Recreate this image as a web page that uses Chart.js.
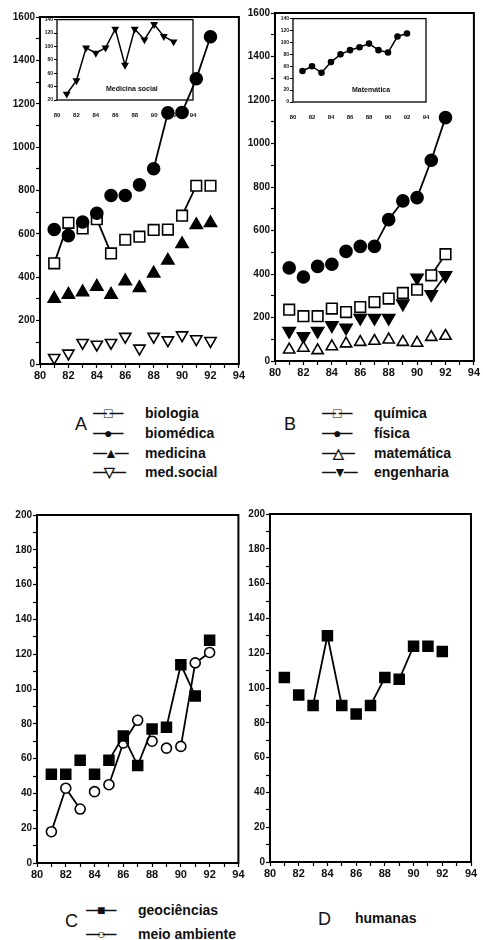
<!DOCTYPE html>
<html>
<head>
<meta charset="utf-8">
<script src="https://cdn.jsdelivr.net/npm/chart.js@4.4.1/dist/chart.umd.min.js"></script>
<style>
body{margin:0;background:#fff;width:483px;height:940px;position:relative;overflow:hidden;font-family:"Liberation Sans",Arial,sans-serif;color:#111;}
canvas{position:absolute;}
.t{position:absolute;white-space:nowrap;line-height:1;font-weight:bold;}
.leg{font-size:14px;}
.let{font-size:18px;font-weight:normal;}
.sym{display:inline-block;width:52px;letter-spacing:-3px;}
.mini{font-size:7px;}
</style>
</head>
<body>
<canvas id="cA" width="248" height="385" style="left:0;top:0"></canvas>
<canvas id="cB" width="238" height="385" style="left:245px;top:0"></canvas>
<canvas id="cC" width="247" height="385" style="left:0;top:500px"></canvas>
<canvas id="cD" width="238" height="385" style="left:245px;top:500px"></canvas>
<canvas id="iA" width="160" height="108" style="left:40px;top:14px"></canvas>
<canvas id="iB" width="160" height="110" style="left:276px;top:13px"></canvas>

<div class="t mini" style="left:106px;top:85px">Medicina social</div>
<div class="t mini" style="left:352px;top:86px">Matemática</div>

<div class="t let" style="left:75px;top:415px">A</div>
<div class="t leg" style="left:93px;top:406px"><span class="sym">—□—</span>biologia</div>
<div class="t leg" style="left:93px;top:426px"><span class="sym">—●—</span>biomédica</div>
<div class="t leg" style="left:93px;top:446px"><span class="sym">—▲—</span>medicina</div>
<div class="t leg" style="left:93px;top:465px"><span class="sym">—▽—</span>med.social</div>

<div class="t let" style="left:284px;top:415px">B</div>
<div class="t leg" style="left:322px;top:406px"><span class="sym">—□—</span>química</div>
<div class="t leg" style="left:322px;top:426px"><span class="sym">—●—</span>física</div>
<div class="t leg" style="left:322px;top:446px"><span class="sym">—△—</span>matemática</div>
<div class="t leg" style="left:322px;top:465px"><span class="sym">—▼—</span>engenharia</div>

<div class="t let" style="left:65px;top:912px">C</div>
<div class="t leg" style="left:86px;top:903px"><span class="sym">—■—</span>geociências</div>
<div class="t leg" style="left:86px;top:927px"><span class="sym">—○—</span>meio ambiente</div>

<div class="t let" style="left:318px;top:910px">D</div>
<div class="t leg" style="left:355px;top:911px">humanas</div>

<script>
// anos (eixo x) e valores
const anos = [81, 82, 83, 84, 85, 86, 87, 88, 89, 90, 91, 92];

// painel A
const biologia  = [464, 651, 625, 668, 510, 573, 587, 618, 620, 684, 822, 822];
const biomedica = [620, 592, 655, 695, 777, 777, 826, 900, 1158, 1160, 1315, 1509];
const medicina  = [301, 320, 331, 357, 320, 382, 351, 418, 477, 553, 641, 650];
const medSocial = [29, 49, 98, 90, 98, 126, 72, 126, 110, 133, 115, 107];

// painel B
const quimica    = [236, 206, 206, 241, 225, 248, 271, 287, 313, 328, 394, 491];
const fisica     = [428, 386, 435, 445, 504, 527, 527, 650, 736, 751, 923, 1119];
const matematica = [52, 60, 49, 67, 80, 87, 92, 98, 87, 83, 110, 115];
const engenharia = [138, 113, 138, 164, 153, 198, 198, 198, 264, 383, 307, 394];

// painel C e D
const geociencias  = [51, 51, 59, 51, 59, 73, 56, 77, 78, 114, 96, 128];
const meioAmbiente = [18, 43, 31, 41, 45, 69, 82, 70, 66, 67, 115, 121];
const humanas      = [106, 96, 90, 130, 90, 85, 90, 106, 105, 124, 124, 121];

// quais segmentos aparecem ligados na figura (indice do ponto inicial)
const ligaBiologia  = [0, 3, 9];
const ligaBiomedica = [7, 9, 10];
const ligaFisica    = [6, 7, 9, 10];
const ligaQuimica   = [10];
const ligaEngenh    = [10];
const ligaGeo       = [4, 5, 6, 8, 9];
const ligaMeio      = [0, 1, 4, 5, 9, 10];
const ligaHumanas   = [2, 3, 6, 8];
const todos = [0, 1, 2, 3, 4, 5, 6, 7, 8, 9, 10];

const fonte = '"Liberation Sans", Arial, sans-serif';

const moldura = { // desenha a caixa em volta da area do grafico
  id: 'moldura',
  afterDraw(c, args, o){
    const a = c.chartArea, ctx = c.ctx;
    ctx.save();
    ctx.strokeStyle = '#000';
    ctx.lineWidth = o.w || 2;
    ctx.strokeRect(a.left, a.top, a.right - a.left, a.bottom - a.top);
    ctx.restore();
  }
};

function serie(vals, liga, forma, r, cheio, rot, lw){
  return {
    data: vals.map((v, i) => ({ x: anos[i], y: v })),
    showLine: true,
    borderColor: '#000',
    borderWidth: lw || 1.8,
    pointStyle: forma,
    pointRotation: rot || 0,
    pointRadius: r,
    pointBackgroundColor: cheio ? '#000' : '#fff',
    pointBorderColor: '#000',
    pointBorderWidth: 1.6,
    segment: { borderColor: s => liga.includes(s.p0DataIndex) ? '#000' : 'rgba(0,0,0,0)' },
    clip: false
  };
}

// tira o espaco extra que o chart.js deixa para as etiquetas nas pontas
function semPadX(s, h){ s.height = h; s.paddingLeft = 0; s.paddingRight = 0; }

function painel(id, datasets, yMax, yStep, pad, yW, xH){
  return new Chart(document.getElementById(id), {
    type: 'scatter',
    data: { datasets },
    options: {
      responsive: false, animation: false,
      layout: { padding: { top: pad.top, right: pad.right, left: 0, bottom: 0 } },
      plugins: { legend: { display: false }, tooltip: { enabled: false }, moldura: { w: 2 } },
      scales: {
        x: {
          type: 'linear', min: 80, max: 94,
          grid: { drawOnChartArea: false, tickLength: 4, color: '#000', tickWidth: 1.2 },
          border: { display: false },
          ticks: { stepSize: 1, autoSkip: false, maxRotation: 0, padding: 1, color: '#111',
                   font: { family: fonte, size: 11, weight: 'bold' },
                   callback: v => v % 2 === 0 ? v : '' },
          afterFit: s => semPadX(s, xH)
        },
        y: {
          min: 0, max: yMax,
          grid: { drawOnChartArea: false, tickLength: 4, color: '#000', tickWidth: 1.2 },
          border: { display: false },
          ticks: { stepSize: yStep / 2, autoSkip: false, padding: 1, color: '#111',
                   font: { family: fonte, size: 10, weight: 'bold' },
                   callback: v => v % yStep === 0 ? v : '' },
          afterFit: s => { s.width = yW; s.paddingTop = 0; s.paddingBottom = 0; }
        }
      }
    },
    plugins: [moldura]
  });
}

function inset(id, vals, forma, r, yMin, yMax, pad, yW, xH){
  return new Chart(document.getElementById(id), {
    type: 'scatter',
    data: { datasets: [serie(vals, todos, forma, r, true, forma === 'triangle' ? 180 : 0, 1.5)] },
    options: {
      responsive: false, animation: false,
      layout: { padding: { top: pad.top, right: pad.right, left: 0, bottom: 0 } },
      plugins: { legend: { display: false }, tooltip: { enabled: false }, moldura: { w: 1.3 } },
      scales: {
        x: {
          type: 'linear', min: 80, max: 94,
          grid: { display: false }, border: { display: false },
          ticks: { stepSize: 2, autoSkip: false, maxRotation: 0, padding: 4, color: '#111',
                   font: { family: fonte, size: 6, weight: 'bold' } },
          afterFit: s => semPadX(s, xH)
        },
        y: {
          min: yMin, max: yMax,
          grid: { drawOnChartArea: false, tickLength: 3, color: '#000' }, border: { display: false },
          ticks: { stepSize: 20, autoSkip: false, padding: 1, color: '#111',
                   font: { family: fonte, size: 5, weight: 'bold' } },
          afterFit: s => { s.width = yW; s.paddingTop = 0; s.paddingBottom = 0; }
        }
      }
    },
    plugins: [moldura]
  });
}

painel('cA', [
  serie(biomedica, ligaBiomedica, 'circle', 6, true),
  serie(biologia, ligaBiologia, 'rect', 7.5, false),
  serie(medicina, [], 'triangle', 7, true),
  serie(medSocial, [], 'triangle', 6.5, false, 180)
], 1600, 200, { top: 17, right: 2 }, 40, 21);

painel('cB', [
  serie(fisica, ligaFisica, 'circle', 6, true),
  serie(quimica, ligaQuimica, 'rect', 7.5, false),
  serie(matematica, [], 'triangle', 6.5, false),
  serie(engenharia, ligaEngenh, 'triangle', 7, true, 180)
], 1600, 200, { top: 13, right: 7 }, 30, 24);

painel('cC', [
  serie(geociencias, ligaGeo, 'rect', 7, true),
  serie(meioAmbiente, ligaMeio, 'circle', 5, false)
], 200, 20, { top: 15, right: 2 }, 37, 22);

painel('cD', [
  serie(humanas, ligaHumanas, 'rect', 7, true)
], 200, 20, { top: 14, right: 12 }, 25, 23);

inset('iA', medSocial, 'triangle', 3, 20, 140, { top: 5, right: 7 }, 17, 22);
inset('iB', matematica, 'circle', 2.5, 0, 140, { top: 5, right: 10 }, 17, 21);
</script>
</body>
</html>
